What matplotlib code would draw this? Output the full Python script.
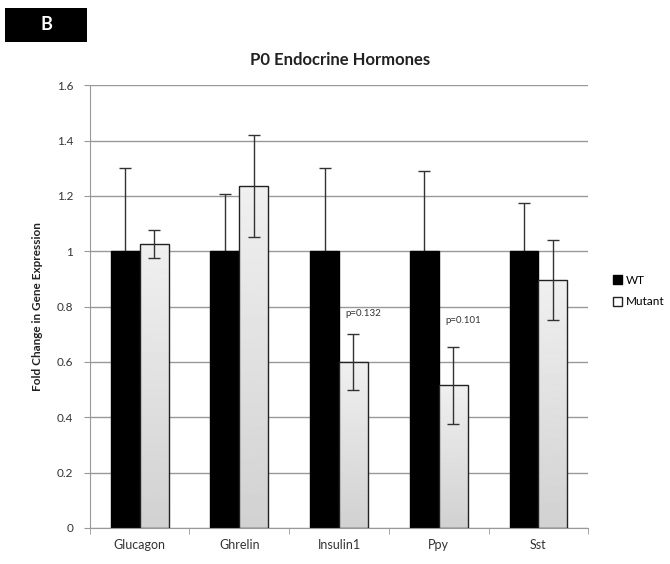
import numpy as np
import matplotlib.pyplot as plt
from matplotlib.patches import Rectangle

# data
genes = ['Glucagon', 'Ghrelin', 'Insulin1', 'Ppy', 'Sst']
wt_mean = [1.0, 1.0, 1.0, 1.0, 1.0]
wt_err = [0.30, 0.205, 0.30, 0.29, 0.175]
mut_mean = [1.025, 1.235, 0.60, 0.515, 0.895]
mut_err = [0.05, 0.185, 0.10, 0.14, 0.145]
p_labels = ['', '', 'p=0.132', 'p=0.101', '']
p_y = [0, 0, 0.76, 0.735, 0]
yticks = [0, 0.2, 0.4, 0.6, 0.8, 1.0, 1.2, 1.4, 1.6]
ytick_labels = ['0', '0.2', '0.4', '0.6', '0.8', '1', '1.2', '1.4', '1.6']

plt.rcParams['font.family'] = ['Lato', 'DejaVu Sans']

fig = plt.figure(figsize=(6.7, 5.64), dpi=100)
ax = fig.add_axes([0.134, 0.064, 0.744, 0.785])

x = np.arange(len(genes))
w = 0.29

ax.bar(x - w / 2, wt_mean, w, color='black', edgecolor='black', zorder=2, label='WT')
mut_bars = ax.bar(x + w / 2, mut_mean, w, color='none', edgecolor='#222222',
                  linewidth=1.0, zorder=3, label='Mutant')

# vertical gradient fill for the mutant bars (light at top, gray at bottom)
grad = np.linspace(0.94, 0.82, 256).reshape(-1, 1)
for b in mut_bars:
    x0, y0 = b.get_x(), b.get_y()
    bw, bh = b.get_width(), b.get_height()
    im = ax.imshow(grad, cmap='gray', vmin=0, vmax=1, aspect='auto',
                   extent=(x0, x0 + bw, y0, y0 + bh), origin='upper', zorder=2.5)
    im.set_clip_path(Rectangle((x0, y0), bw, bh, transform=ax.transData))

# WT error bars sit behind the black bars so only the upper half shows
ax.errorbar(x - w / 2, wt_mean, yerr=wt_err, fmt='none', ecolor='#333333',
            elinewidth=1.0, capsize=4, capthick=1.0, zorder=1.5)
ax.errorbar(x + w / 2, mut_mean, yerr=mut_err, fmt='none', ecolor='#333333',
            elinewidth=1.0, capsize=4, capthick=1.0, zorder=4)

for i, t in enumerate(p_labels):
    if t:
        ax.text(x[i] + w / 2 + 0.1, p_y[i], t, ha='center', va='bottom',
                fontsize=7, color='#333333', zorder=5)

ax.set_xlim(-0.5, len(genes) - 0.5)
ax.set_ylim(0, 1.6)
ax.set_yticks(yticks)
ax.set_yticklabels(ytick_labels, fontsize=8.5, color='#333333')
ax.set_xticks(x)
ax.set_xticklabels(genes, fontsize=9, color='#333333')
ax.tick_params(axis='x', length=0, pad=8)
ax.tick_params(axis='y', length=4, color='#999999', pad=8)
ax.set_xticks(np.arange(-0.5, len(genes)), minor=True)
ax.tick_params(axis='x', which='minor', length=4, color='#999999')

ax.yaxis.grid(True, color='#999999', linewidth=1.0, zorder=0)
ax.set_axisbelow(True)
for s in ['top', 'right']:
    ax.spines[s].set_visible(False)
ax.spines['left'].set_color('#999999')
ax.spines['bottom'].set_color('#999999')

ax.set_ylabel('Fold Change in Gene Expression', fontsize=8.5, fontweight='bold',
              color='#222222', labelpad=10)
fig.text(0.507, 0.893, 'P0 Endocrine Hormones', ha='center', va='center',
         fontsize=12, fontweight='bold', color='#222222')

ax.legend(loc='center left', bbox_to_anchor=(1.04, 0.535), frameon=False,
          fontsize=8.5, handlelength=0.8, handleheight=0.8, handletextpad=0.3,
          labelspacing=0.9, borderaxespad=0)

# panel letter
fig.patches.append(Rectangle((0.008, 0.926), 0.122, 0.06, transform=fig.transFigure,
                             facecolor='black', edgecolor='none', zorder=0))
fig.text(0.069, 0.956, 'B', ha='center', va='center', fontsize=13,
         fontweight='bold', color='white')

fig.savefig('out.png', dpi=100)
